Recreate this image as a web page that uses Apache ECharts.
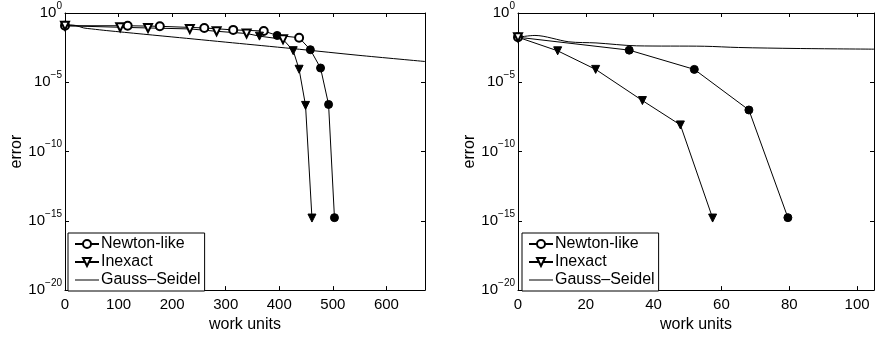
<!DOCTYPE html>
<html>
<head>
<meta charset="utf-8">
<script src="https://cdn.jsdelivr.net/npm/echarts@6/dist/echarts.min.js"></script>
<style>
  html, body { margin: 0; padding: 0; background: #fff; }
  #chart { width: 877px; height: 338px; }
</style>
</head>
<body>
<div id="chart"></div>
<script>
// values; error values are stored as log10(error)
// solid: 1 = filled marker, 0 = open marker

// left panel
const leftNewtonWork = [0, 117, 177, 260, 314, 371, 396, 437, 458, 477, 492, 503];
const leftNewtonLog = [-0.92, -0.92, -0.96, -1.08, -1.22, -1.3, -1.62, -1.78, -2.65, -3.97, -6.6, -14.77];
const leftNewtonSolid = [0, 0, 0, 0, 0, 0, 1, 0, 1, 1, 1, 1];

const leftInexactWork = [0, 103, 155, 233, 283, 339, 363, 407, 426, 437, 449, 461];
const leftInexactLog = [-0.92, -1.03, -1.08, -1.15, -1.32, -1.48, -1.67, -1.9, -2.72, -4.06, -6.67, -14.8];
const leftInexactSolid = [0, 0, 0, 0, 0, 0, 1, 0, 1, 1, 1, 1];

const leftGsWork = [0, 8, 20, 35, 50, 78, 214, 326, 438, 547, 672];
const leftGsLog = [-0.92, -0.86, -0.9, -1.08, -1.15, -1.27, -1.78, -2.2, -2.62, -3.05, -3.5];

// right panel
const rightNewtonWork = [0, 32.8, 52, 68.1, 79.6];
const rightNewtonLog = [-1.75, -2.68, -4.07, -7.0, -14.77];
const rightNewtonSolid = [0, 1, 1, 1, 1];

const rightInexactWork = [0, 11.7, 22.9, 36.7, 47.9, 57.4];
const rightInexactLog = [-1.75, -2.73, -4.07, -6.32, -8.08, -14.8];
const rightInexactSolid = [0, 1, 1, 1, 1, 1];

const rightGsWork = [0, 5, 15, 23, 35, 55, 65, 82, 105];
const rightGsLog = [-1.75, -1.62, -2.08, -2.16, -2.37, -2.4, -2.49, -2.56, -2.61];

const leftXMax = 672, leftXStep = 100;
const rightXMax = 105, rightXStep = 20;
const yMin = -20, yMax = 0, yStep = 5;

const legendNames = ['Newton-like', 'Inexact', 'Gauss\u2013Seidel'];

const FONT = '"Liberation Sans", Arial, Helvetica, sans-serif';

function pts(xs, ys, solid, filledSymbol) {
  return xs.map((x, i) => {
    const item = {value: [x, ys[i]]};
    if (solid && solid[i]) {
      item.symbol = filledSymbol;
    }
    return item;
  });
}

function yLabel(v) {
  const e = v === 0 ? '0' : '\u2212' + (-v);
  return '{b|10}{s|' + e + '}';
}

const yRich = {
  b: {fontSize: 15, fontFamily: FONT, color: '#000'},
  s: {fontSize: 10, fontFamily: FONT, color: '#000', padding: [0, 0, 14, 0]}
};

function xAxes(grid, max, step) {
  const base = {
    type: 'value', gridIndex: grid, min: 0, max: max, interval: step,
    splitLine: {show: false},
    axisLine: {show: true, onZero: false, lineStyle: {color: '#000', width: 1}},
    axisTick: {show: true, inside: true, length: 4, lineStyle: {color: '#000'}}
  };
  return [
    Object.assign({}, base, {
      position: 'bottom',
      name: 'work units', nameLocation: 'middle', nameGap: 14,
      nameTextStyle: {fontSize: 16, fontFamily: FONT, color: '#000'},
      axisLabel: {
        margin: 7, fontSize: 15, fontFamily: FONT, color: '#000',
        formatter: v => (v % step === 0 ? String(v) : '')
      }
    }),
    Object.assign({}, base, {position: 'top', axisLabel: {show: false}})
  ];
}

function yAxes(grid, nameGap) {
  const base = {
    type: 'value', gridIndex: grid, min: yMin, max: yMax, interval: yStep,
    splitLine: {show: false},
    axisLine: {show: true, onZero: false, lineStyle: {color: '#000', width: 1}},
    axisTick: {show: true, inside: true, length: 4, lineStyle: {color: '#000'}}
  };
  return [
    Object.assign({}, base, {
      position: 'left',
      name: 'error', nameLocation: 'middle', nameGap: nameGap,
      nameTextStyle: {fontSize: 16, fontFamily: FONT, color: '#000'},
      axisLabel: {margin: 3, formatter: yLabel, rich: yRich}
    }),
    Object.assign({}, base, {position: 'right', axisLabel: {show: false}})
  ];
}

function methodSeries(name, data, symbol, rotate, xi, yi) {
  return {
    name: name, type: 'line', xAxisIndex: xi, yAxisIndex: yi,
    data: data, symbol: symbol, symbolSize: 8, symbolRotate: rotate,
    showAllSymbol: true, clip: false,
    lineStyle: {color: '#000', width: 1},
    itemStyle: {color: '#000', borderColor: '#000', borderWidth: 1},
    z: 3
  };
}

function gsSeries(xs, ys, xi, yi) {
  return {
    name: legendNames[2], type: 'line', xAxisIndex: xi, yAxisIndex: yi,
    data: xs.map((x, i) => [x, ys[i]]), symbol: 'none', smooth: 0.3,
    lineStyle: {color: '#000', width: 1},
    itemStyle: {color: '#000'},
    z: 2
  };
}

function legend(left) {
  return {
    orient: 'vertical', left: left, top: 233,
    data: [
      {name: legendNames[0]},
      {name: legendNames[1]},
      {name: legendNames[2], icon: 'path://M0,0H24V1H0Z'}
    ],
    borderColor: '#000', borderWidth: 1, borderRadius: 0,
    padding: [2, 4, 2, 6],
    itemWidth: 24, itemHeight: 10, itemGap: 0,
    selectedMode: false,
    symbolKeepAspect: true,
    itemStyle: {borderWidth: 1},
    textStyle: {fontSize: 16, fontFamily: FONT, color: '#000', lineHeight: 18, padding: [0, 0, 0, -3]},
    backgroundColor: '#fff'
  };
}

const chart = echarts.init(document.getElementById('chart'), null, {renderer: 'canvas'});
chart.setOption({
  animation: false,
  backgroundColor: '#fff',
  grid: [
    {left: 65, top: 13, width: 360, height: 284},
    {left: 518, top: 13, width: 358, height: 284}
  ],
  legend: [legend(68), legend(522)],
  xAxis: [].concat(xAxes(0, leftXMax, leftXStep), xAxes(1, rightXMax, rightXStep)),
  yAxis: [].concat(yAxes(0, 29), yAxes(1, 29)),
  series: [
    gsSeries(leftGsWork, leftGsLog, 0, 0),
    methodSeries(legendNames[0], pts(leftNewtonWork, leftNewtonLog, leftNewtonSolid, 'circle'), 'emptyCircle', 0, 0, 0),
    methodSeries(legendNames[1], pts(leftInexactWork, leftInexactLog, leftInexactSolid, 'triangle'), 'emptyTriangle', 180, 0, 0),
    gsSeries(rightGsWork, rightGsLog, 2, 2),
    methodSeries(legendNames[0], pts(rightNewtonWork, rightNewtonLog, rightNewtonSolid, 'circle'), 'emptyCircle', 0, 2, 2),
    methodSeries(legendNames[1], pts(rightInexactWork, rightInexactLog, rightInexactSolid, 'triangle'), 'emptyTriangle', 180, 2, 2)
  ]
});
</script>
</body>
</html>
